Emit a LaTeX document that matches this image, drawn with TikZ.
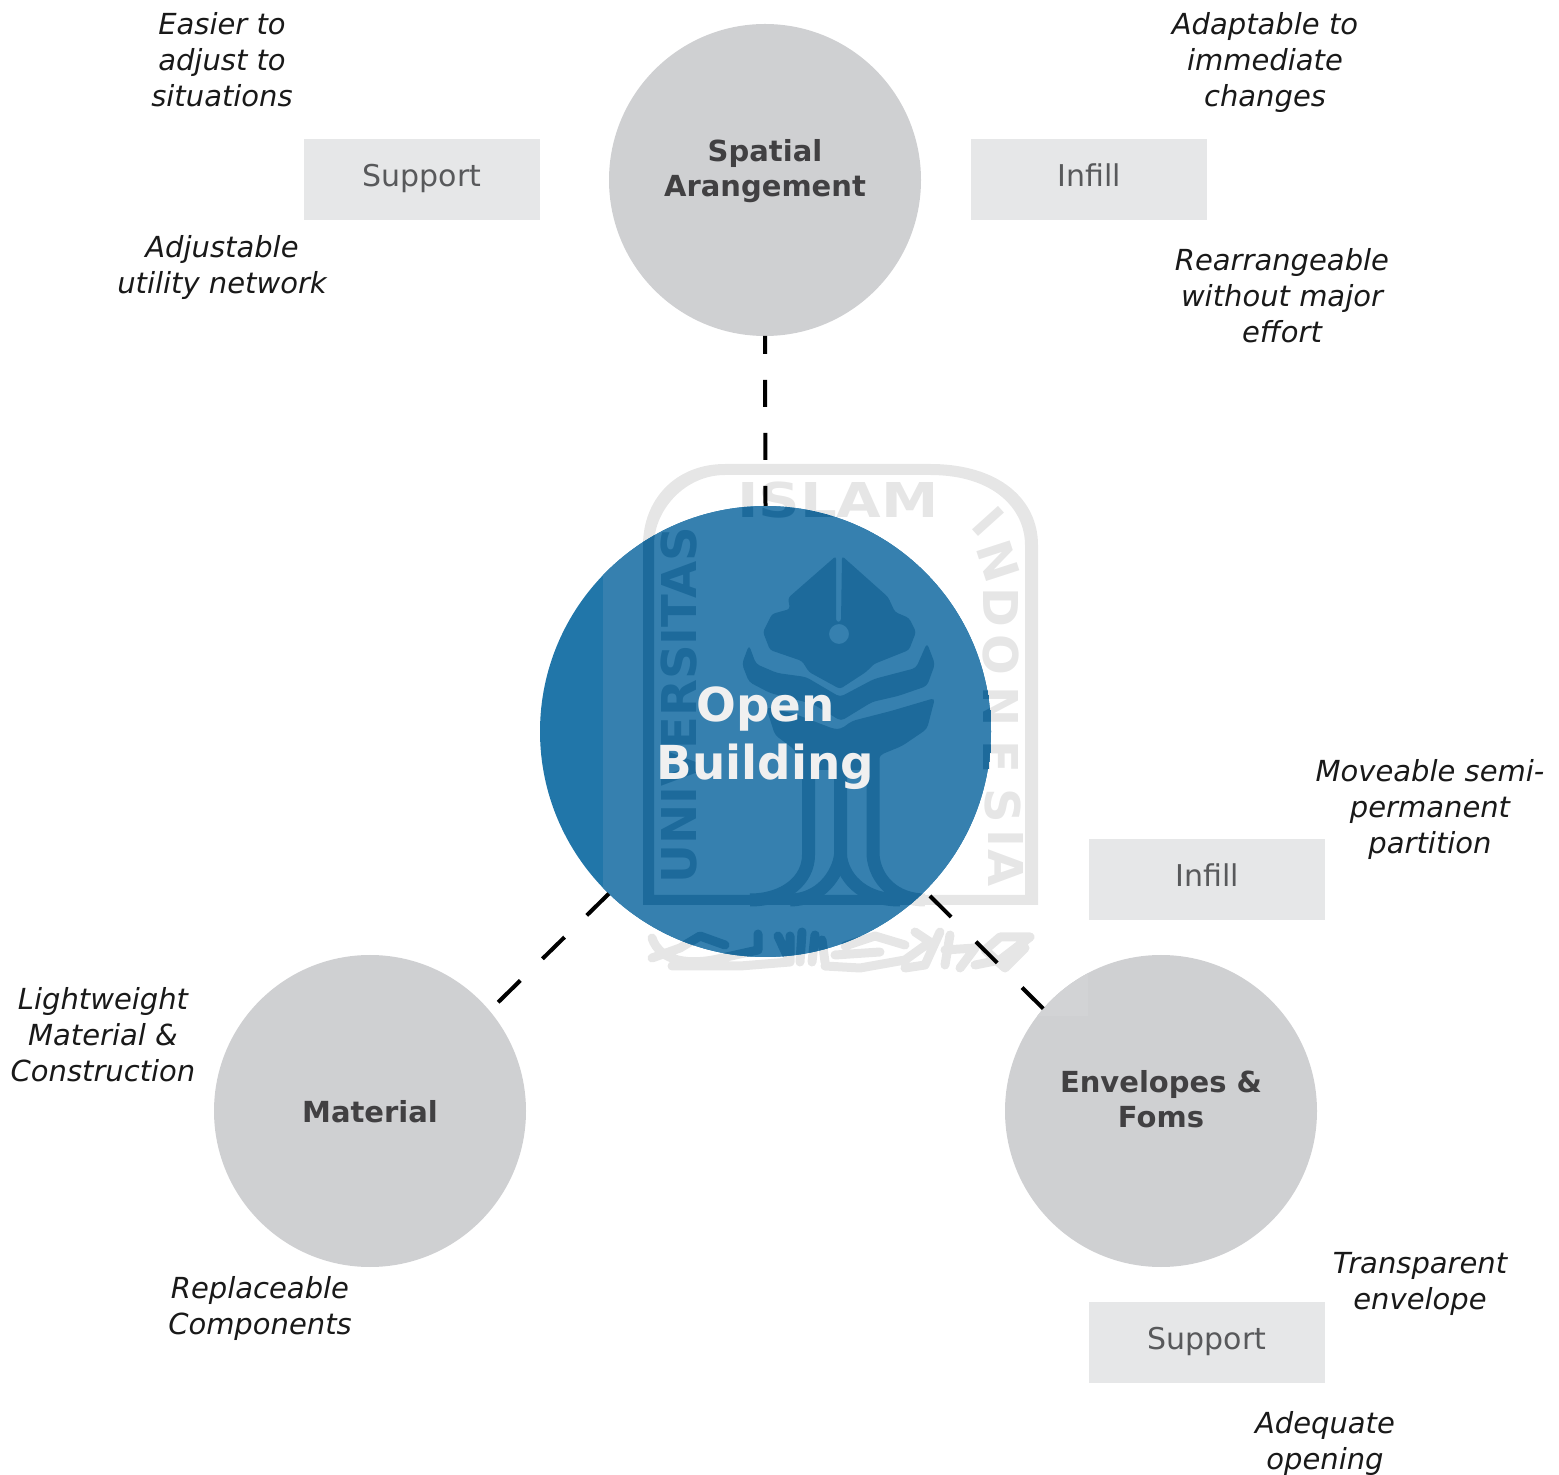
\documentclass[tikz,border=0pt]{standalone}
\usepackage{graphicx}
\usepackage{fontspec}
\setmainfont{DejaVu Sans}
\definecolor{wmlight}{HTML}{E6E6E6}
\definecolor{wmdark}{HTML}{1D6A9B}
\definecolor{blueA}{HTML}{2176A9}
\definecolor{blueB}{HTML}{3680AF}
\definecolor{grayC}{HTML}{CFD0D2}
\definecolor{grayD}{HTML}{D2D3D5}
\definecolor{boxC}{HTML}{E6E7E8}
\definecolor{boxT}{HTML}{58595B}
\definecolor{headT}{HTML}{414042}
\newcommand{\wmfont}{\fontsize{24}{24}\selectfont\bfseries}
\newcommand{\lifted}[2]{\raisebox{#1}[0pt][0pt]{\begin{tabular}{@{}c@{}}#2\end{tabular}}}
% the watermark, in one flat colour
\newcommand{\wmark}[1]{%
 \fill[#1,even odd rule] (643,905) -- (643,545) .. controls (643,500) and (675,464) .. (725,464)
   -- (930,464) .. controls (1000,464) and (1038,500) .. (1038,545) -- (1038,905) -- cycle
   (654,895) -- (1025,895) -- (1025,545) .. controls (1025,510) and (995,475) .. (930,475)
   -- (725,475) .. controls (685,475) and (654,510) .. (654,545) -- cycle;
 \node[text=#1,inner sep=0pt] (wmIslam) at (838,500) {\wmfont\scalebox{1.2}[1]{ISLAM}};
 \node[text=#1,inner sep=0pt,rotate=90] (wmUniv) at (679,705) {\wmfont UNIVERSITAS};
 \foreach \lx/\ly/\la/\lt/\ln in {988/521/-48/I/a,998/561/-72/N/b,1001/607/-90/D/c,1001/655/-90/O/d,1001/707/-90/N/e,1001/757/-90/E/f,1003/806/-90/S/g,1006/838/-90/I/h,1006/868/-90/A/i}{%
   \node[text=#1,inner sep=0pt,rotate=\la] (wmLet\ln) at (\lx,\ly) {\wmfont\lt};}
 % crown
 \fill[#1,even odd rule,rounded corners=1.5pt]
   (836,556) -- (788,598) -- (790,609) -- (772,614) -- (763,632) -- (770,650) -- (802,661) -- (809,672)
   -- (840,689) -- (866,672) -- (874,664) -- (909,650) -- (916,632) -- (909,618) -- (895,612) -- (888,597)
   -- (842,556) -- (841,622) -- (836,622) -- cycle
   (839,634) circle (5pt);
 % two leaves
 \fill[#1,rounded corners=2pt]
   (749,645) -- (756,664) -- (777,673) -- (806,677) -- (840,697) -- (874,679) -- (916,668) -- (927,643)
   -- (935,664) -- (927,686) -- (898,696) -- (872,702) -- (841,721) -- (813,704) -- (770,693) -- (749,682) -- (742,664) -- cycle;
 % bowl
 \fill[#1,rounded corners=2pt]
   (766,707) -- (795,714) -- (834,729) -- (841,729) -- (852,721) -- (891,711) -- (935,698)
   -- (927,729) -- (902,746) -- (880,755) -- (875,770) -- (802,770) -- (795,750) -- (775,735) -- cycle;
 % stems
 \draw[#1,line width=6.5pt,line cap=butt] (808.5,755) -- (808.5,855) .. controls (808.5,880) and (785,900) .. (750,900);
 \draw[#1,line width=6.5pt,line cap=butt] (840.5,745) -- (840.5,855) .. controls (838,875) and (820,900) .. (790,900);
 \draw[#1,line width=6.5pt,line cap=butt] (840.5,855) .. controls (842,875) and (860,900) .. (900,900);
 \draw[#1,line width=6.5pt,line cap=butt] (873,755) -- (873,855) .. controls (875,880) and (895,900) .. (925,900);
 % band of script below the frame
 \draw[#1,line width=4.5pt,line cap=round,line join=round]
   (652,938) .. controls (660,962) and (690,966) .. (722,958) -- (758,950) -- (758,934)
   (652,958) -- (680,948) -- (700,936) -- (725,945)
   (672,966) -- (740,966) -- (790,962) -- (778,936) (790,962) -- (790,936) (800,962) -- (802,932) (812,962) -- (815,935) (825,962) -- (822,940)
   (825,966) -- (860,968) -- (905,960) -- (930,942) -- (915,932)
   (845,946) -- (875,936) -- (905,945) (835,955) -- (880,952)
   (905,968) -- (925,965) -- (940,932) (945,965) -- (950,935) (945,950) -- (975,948) -- (960,968)
   (975,965) -- (1000,960) -- (1030,937) -- (1000,937) -- (985,950) -- (1005,968) -- (1025,948);
}
\tikzset{
  bubble/.style={circle,fill=grayC,text=headT,minimum size=156pt,inner sep=0pt,outer sep=0pt,font=\fontsize{14.5}{17.5}\selectfont\bfseries},
  core/.style={circle,text=white!94!black,minimum size=225.5pt,inner sep=0pt,outer sep=0pt,font=\fontsize{23.4}{29}\selectfont\bfseries},
  tag/.style={rectangle,fill=boxC,text=boxT,minimum width=118pt,minimum height=40.5pt,inner sep=0pt,outer sep=0pt,font=\fontsize{15}{18}\selectfont},
  note/.style={inner sep=0pt,outer sep=0pt,align=center,text=black!90,font=\fontsize{14.5}{18}\selectfont\itshape},
  link/.style={line width=2pt,black}
}
\begin{document}
\begin{tikzpicture}[x=0.5pt,y=-0.5pt]
\useasboundingbox (0,0) rectangle (1559,1475);
\wmark{wmlight}
% fills under the text of the centre circle
\begin{scope}
  \clip (765.5,731.5) circle (112.75pt);
  \fill[blueA] (530,500) rectangle (1000,960);
  \fill[blueB] (603,440) rectangle (1088,1016);
  \wmark{wmdark}
\end{scope}
\begin{scope}
  \clip (1161,1111) circle (78pt);
  \fill[grayC] (1000,950) rectangle (1320,1270);
  \fill[grayD] (1000,950) rectangle (1088,1016);
\end{scope}
% circles
\node[bubble] (spatial) at (765,180) {\lifted{0.2pt}{Spatial\\Arangement}};
\node[bubble] (material) at (370,1111) {\lifted{-5.6pt}{Material}};
\node[bubble,fill=none] (envelope) at (1161,1111) {\lifted{0.2pt}{Envelopes \&\\Foms}};
\node[core] (open) at (765.5,731.5) {\lifted{-10pt}{Open\\Building}};
% boxes
\node[tag] (sup1) at (422,179.5) {\lifted{-3.6pt}{Support}};
\node[tag] (inf1) at (1089,179.5) {\lifted{-3.6pt}{Infill}};
\node[tag] (inf2) at (1207,879.5) {\lifted{-3.6pt}{Infill}};
\node[tag] (sup2) at (1207,1342.5) {\lifted{-3.6pt}{Support}};
% connectors
\draw[link,dash pattern=on 13.5pt off 13pt,dash phase=4.5pt] (spatial.south) -- (open.north);
\draw[link,dash pattern=on 15.5pt off 15.5pt] (open.226.2) -- (material.40.4);
\draw[link,dash pattern=on 15pt off 17.5pt,dash phase=29pt] (open.-45.9) -- (envelope.139.4);
% notes
\node[note] (n1) at (222,60) {Easier to\\adjust to\\situations};
\node[note] (n2) at (222,267.5) {Adjustable\\utility network};
\node[note] (n3) at (1265,62.5) {Adaptable to\\immediate\\changes};
\node[note] (n4) at (1282,296) {Rearrangeable\\without major\\effort};
\node[note] (n5) at (1430,810) {Moveable semi-\\permanent\\partition};
\node[note] (n6) at (103,1035) {Lightweight\\Material \&\\Construction};
\node[note] (n7) at (260,1308) {Replaceable\\Components};
\node[note] (n8) at (1420,1283.5) {Transparent\\envelope};
\node[note] (n9) at (1325,1443) {Adequate\\opening};
\end{tikzpicture}
\end{document}
